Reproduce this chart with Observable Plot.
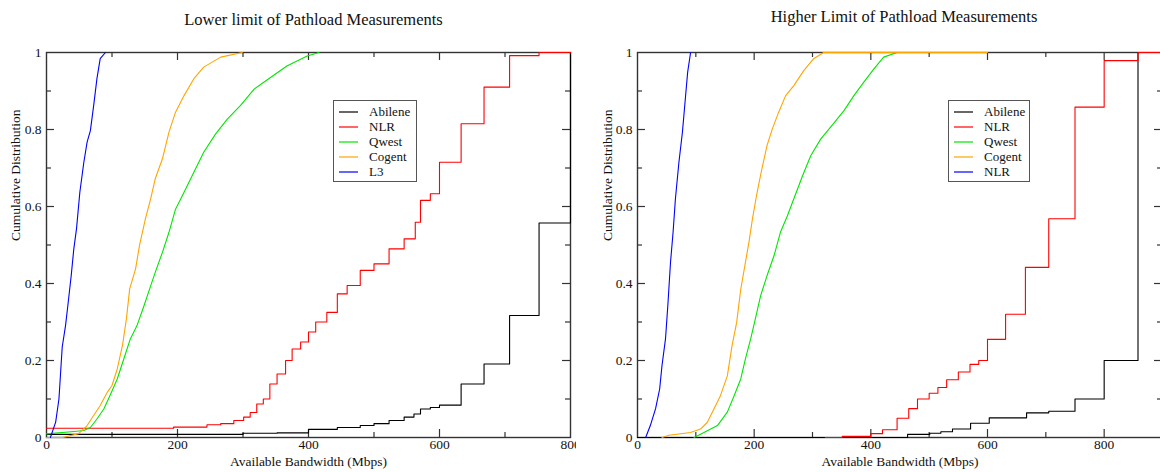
<!DOCTYPE html>
<html>
<head>
<meta charset="utf-8">
<script src="https://cdn.jsdelivr.net/npm/d3@7"></script>
<script src="https://cdn.jsdelivr.net/npm/@observablehq/plot@0.6"></script>
<style>
  html, body { margin: 0; padding: 0; background: #fff; }
  #wrap { position: relative; width: 1160px; height: 472px; overflow: hidden; background: #fff;
          font-family: "Liberation Serif", "DejaVu Serif", serif; }
  .panel { position: absolute; top: 0; }
  .legend { position: absolute; box-sizing: border-box; border: 1.5px solid #555; background: #fff;
            font-size: 13px; color: #111; padding-top: 3px; }
  .legend .row { height: 15px; display: flex; align-items: center; }
  .legend svg { margin-left: 5px; margin-right: 11px; display: block; }
</style>
</head>
<body>
<div id="wrap"></div>
<script>
// ---------- tick labels ----------
const leftXMajor = [0, 200, 400, 600, 800];
const rightXMajor = [0, 200, 400, 600, 800];
const leftXMinor = [100, 300, 500, 700];
const rightXMinor = [100, 300, 500, 700];
const yMajor = [0, 0.2, 0.4, 0.6, 0.8, 1];
const yMinor = [0.1, 0.3, 0.5, 0.7, 0.9];

// ---------- series names ----------
const leftNames = ["Abilene", "NLR", "Qwest", "Cogent", "L3"];
const rightNames = ["Abilene", "NLR", "Qwest", "Cogent", "NLR"];
const seriesColors = ["#000000", "#ff0000", "#00e600", "#ffa500", "#0000ff"];

// ---------- Lower limit (left) : [bandwidth Mbps, cumulative fraction] ----------
const lowerAbilene = [[0,0.008],[250,0.008],[300,0.011],[352,0.012],[400,0.021],[444,0.026],[479,0.031],[500,0.036],[523,0.044],[546,0.053],[561,0.061],[571,0.074],[586,0.078],[600,0.084],[633,0.139],[668,0.191],[707,0.317],[752,0.557],[800,1]];
const lowerNLR = [[0,0.024],[194,0.027],[245,0.033],[266,0.036],[286,0.044],[301,0.053],[311,0.065],[321,0.087],[331,0.1],[341,0.139],[352,0.165],[365,0.2],[375,0.23],[388,0.248],[400,0.274],[411,0.3],[428,0.325],[444,0.373],[459,0.395],[479,0.434],[500,0.451],[523,0.49],[546,0.516],[563,0.559],[571,0.616],[586,0.633],[600,0.715],[633,0.815],[668,0.91],[707,0.992],[752,1],[800,1]];
const lowerQwest = [[0,0.0095],[42,0.0156],[57,0.018],[67,0.026],[77,0.048],[87.5,0.074],[98,0.113],[108,0.152],[118,0.204],[128,0.256],[138,0.29],[149,0.343],[159,0.394],[166,0.429],[177,0.481],[187,0.533],[197,0.593],[210,0.637],[225,0.689],[240,0.741],[258,0.788],[276,0.827],[296,0.862],[317,0.905],[342,0.935],[367,0.965],[398,0.991],[416,1]];
const lowerCogent = [[0,0],[25,0],[49,0.01],[62,0.031],[72,0.057],[82,0.083],[93,0.118],[100,0.135],[108,0.178],[116,0.239],[122,0.308],[127,0.386],[136,0.438],[142,0.499],[151,0.568],[159,0.62],[166,0.672],[177,0.724],[187,0.793],[197,0.845],[210,0.888],[225,0.932],[240,0.962],[266,0.988],[299,1]];
const lowerL3 = [[6,0],[14,0.04],[19,0.1],[24,0.235],[29,0.29],[32.6,0.343],[37.7,0.42],[41.7,0.49],[45.8,0.542],[50.9,0.637],[57,0.715],[62,0.767],[67,0.797],[72,0.862],[77,0.932],[82,0.984],[90,1]];

// ---------- Higher limit (right) ----------
const higherAbilene = [[0,0],[444,0],[463,0.008],[501,0.011],[520,0.015],[540,0.022],[571,0.037],[603,0.051],[667,0.064],[705,0.068],[750,0.1],[800,0.2],[858,1],[900,1]];
const higherNLR = [[322,0],[351,0.003],[400,0.01],[420,0.02],[445,0.05],[465,0.075],[480,0.1],[500,0.115],[515,0.13],[530,0.15],[550,0.17],[570,0.19],[585,0.2],[600,0.255],[631,0.32],[665,0.442],[705,0.568],[750,0.858],[800,0.979],[858,1],[900,1]];
const higherQwest = [[97,0],[114,0.013],[137,0.031],[154,0.066],[165.5,0.108],[177,0.152],[185,0.204],[194,0.256],[202,0.308],[211,0.368],[222,0.42],[234,0.472],[245,0.533],[257,0.576],[268,0.62],[283,0.68],[297,0.732],[314,0.775],[331,0.806],[354,0.849],[371,0.888],[388,0.923],[405,0.957],[422,0.988],[445,1]];
const higherCogent = [[42,0],[54,0.006],[91,0.013],[108,0.022],[119.5,0.039],[131,0.074],[142,0.108],[154,0.16],[162,0.238],[170,0.299],[177,0.385],[184,0.446],[191,0.507],[197,0.567],[204,0.628],[212,0.689],[222,0.758],[231,0.801],[242,0.845],[254,0.888],[268,0.914],[285,0.953],[302,0.984],[319,1],[600,1]];
const higherNLR2 = [[14,0],[22,0.031],[31,0.075],[38,0.126],[42,0.187],[48,0.256],[52,0.343],[56.6,0.455],[61,0.533],[65,0.62],[71,0.715],[77,0.793],[82,0.88],[86,0.949],[91,1]];

const leftSeries = [lowerAbilene, lowerNLR, lowerQwest, lowerCogent, lowerL3];
const rightSeries = [higherAbilene, higherNLR, higherQwest, higherCogent, higherNLR2];
// step curves for coarse-stepped series, smooth for dense ones
const seriesCurves = ["step-after", "step-after", "linear", "linear", "linear"];

const wrap = document.getElementById("wrap");
const MT = 52, MB = 35, H = 472;
const frameH = H - MT - MB;

function makePanel(cfg) {
  const frameW = cfg.width - cfg.marginLeft - cfg.marginRight;
  const marks = [];
  marks.push(Plot.frame({stroke: "#333", strokeWidth: 1.4}));
  // inward ticks on all four sides
  const tick = (vals, len) => [
    Plot.ruleX(vals, {x: d => d, insetTop: frameH - len, stroke: "#333", strokeWidth: 1.2}),
    Plot.ruleX(vals, {x: d => d, insetBottom: frameH - len, stroke: "#333", strokeWidth: 1.2})
  ];
  const tickY = (vals, len) => [
    Plot.ruleY(vals, {y: d => d, insetRight: frameW - len, stroke: "#333", strokeWidth: 1.2}),
    Plot.ruleY(vals, {y: d => d, insetLeft: frameW - len, stroke: "#333", strokeWidth: 1.2})
  ];
  marks.push(...tick(cfg.xMajor.filter(v => v > 0 && v < cfg.xMax), 8));
  marks.push(...tick(cfg.xMinor, 5));
  marks.push(...tickY(yMajor.filter(v => v > 0 && v < 1), 8));
  marks.push(...tickY(yMinor, 5));
  cfg.series.forEach((data, i) => {
    marks.push(Plot.line(data, {x: d => d[0], y: d => d[1], stroke: seriesColors[i],
      strokeWidth: 1.1, curve: seriesCurves[i]}));
  });
  marks.push(Plot.axisX(cfg.xMajor, {tickSize: 0, tickPadding: 2, label: null, tickFormat: d => String(d)}));
  marks.push(Plot.axisY(yMajor, {tickSize: 0, tickPadding: 5, label: null, tickFormat: d => String(d)}));
  marks.push(Plot.text([cfg.title], {frameAnchor: "top", dy: cfg.titleDy, dx: cfg.titleDx, fontSize: 16.5, fill: "#111"}));
  marks.push(Plot.text(["Available Bandwidth (Mbps)"], {frameAnchor: "bottom", dy: 28, fontSize: 13.5, fill: "#111"}));
  marks.push(Plot.text(["Cumulative Distribution"], {frameAnchor: "left", dx: cfg.ylabelDx, dy: -4, rotate: -90, fontSize: 13.5, fill: "#111"}));

  const svg = Plot.plot({
    width: cfg.width, height: H,
    marginTop: MT, marginBottom: MB, marginLeft: cfg.marginLeft, marginRight: cfg.marginRight,
    x: {domain: [0, cfg.xMax]},
    y: {domain: [0, 1]},
    style: {fontFamily: '"Liberation Serif", "DejaVu Serif", serif', fontSize: "13.5px", color: "#111", background: "#fff", overflow: "hidden"},
    marks
  });
  const holder = document.createElement("div");
  holder.className = "panel";
  holder.style.left = cfg.left + "px";
  holder.style.width = cfg.width + "px";
  holder.appendChild(svg);
  wrap.appendChild(holder);

  // legend
  const lg = document.createElement("div");
  lg.className = "legend";
  lg.style.left = cfg.legendLeft + "px";
  lg.style.top = "100px";
  lg.style.width = cfg.legendWidth + "px";
  lg.style.height = "82px";
  const NS = "http://www.w3.org/2000/svg";
  cfg.names.forEach((name, i) => {
    const row = document.createElement("div");
    row.className = "row";
    const sw = document.createElementNS(NS, "svg");
    sw.setAttribute("width", "19");
    sw.setAttribute("height", "4");
    const ln = document.createElementNS(NS, "line");
    ln.setAttribute("x1", "0"); ln.setAttribute("x2", "19");
    ln.setAttribute("y1", "2"); ln.setAttribute("y2", "2");
    ln.setAttribute("stroke", seriesColors[i]);
    ln.setAttribute("stroke-width", "1.2");
    sw.appendChild(ln);
    const t = document.createElement("span");
    t.textContent = name;
    row.appendChild(sw); row.appendChild(t);
    lg.appendChild(row);
  });
  wrap.appendChild(lg);
}

makePanel({
  left: 0, width: 576, marginLeft: 46, marginRight: 6, xMax: 800,
  xMajor: leftXMajor, xMinor: leftXMinor, series: leftSeries, names: leftNames,
  title: "Lower limit of Pathload Measurements", titleDy: -39, titleDx: 5, ylabelDx: -31,
  legendLeft: 333, legendWidth: 84
});
makePanel({
  left: 580, width: 582, marginLeft: 57, marginRight: 0, xMax: 900,
  xMajor: rightXMajor, xMinor: rightXMinor, series: rightSeries, names: rightNames,
  title: "Higher Limit of Pathload Measurements", titleDy: -42, titleDx: 4, ylabelDx: -30,
  legendLeft: 948, legendWidth: 82
});
</script>
</body>
</html>
